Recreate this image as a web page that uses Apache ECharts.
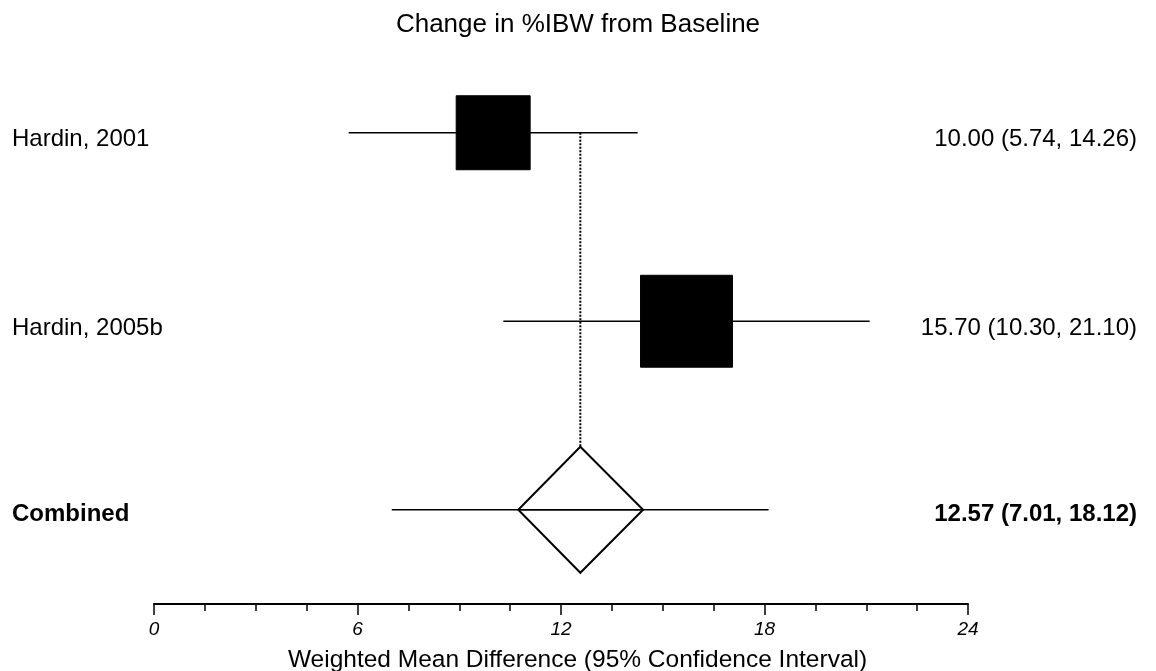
<!DOCTYPE html>
<html>
<head>
<meta charset="utf-8">
<script src="https://cdn.jsdelivr.net/npm/echarts@6/dist/echarts.min.js"></script>
<style>
  html, body { margin: 0; padding: 0; background: #fff; }
  #chart { width: 1156px; height: 671px; }
</style>
</head>
<body>
<div id="chart"></div>
<script>
// Study rows, top to bottom
const studies = ['Hardin, 2001', 'Hardin, 2005b'];
const studyMean = [10.00, 15.70];
const studyLow = [5.74, 10.30];
const studyHigh = [14.26, 21.10];
const studyWeight = [39.3, 60.7];   // relative weight (%), sets box area

// Pooled estimate
const pooledLabel = 'Combined';
const pooledMean = 12.57;
const pooledLow = 7.01;
const pooledHigh = 18.12;
const diamondLow = 10.74;
const diamondHigh = 14.42;

// X axis ticks
const xTicks = [0, 6, 12, 18, 24];

const FONT = 'Liberation Sans, Arial, sans-serif';
const fmt = v => v.toFixed(2);

// row positions on the hidden y scale: first study at top
const nRows = studies.length + 1;
const rows = [];
studies.forEach((s, i) => rows.push({
  kind: 'study', label: s, mean: studyMean[i], low: studyLow[i], high: studyHigh[i],
  weight: studyWeight[i], y: nRows - i
}));
rows.push({
  kind: 'pooled', label: pooledLabel, mean: pooledMean, low: pooledLow, high: pooledHigh,
  dLow: diamondLow, dHigh: diamondHigh, y: 1
});

const chart = echarts.init(document.getElementById('chart'));

const DIAMOND_HALF = 63;
const BOX_SCALE = 11.8;

chart.setOption({
  animation: false,
  backgroundColor: '#fff',
  title: {
    text: 'Change in %IBW from Baseline',
    left: 'center',
    top: 7,
    textStyle: { fontFamily: FONT, fontSize: 26, fontWeight: 'normal', color: '#000' }
  },
  grid: {
    left: 154, right: 188, top: 38.5, bottom: 67,
    containLabel: false, outerBoundsMode: 'none'
  },
  xAxis: {
    type: 'value',
    min: xTicks[0],
    max: xTicks[xTicks.length - 1],
    interval: xTicks[1] - xTicks[0],
    splitLine: { show: false },
    axisLine: { show: true, onZero: false, lineStyle: { color: '#000', width: 2 } },
    axisTick: { show: true, length: 11, lineStyle: { color: '#000', width: 1.5 } },
    minorTick: { show: true, splitNumber: 4, length: 7, lineStyle: { color: '#000', width: 1.5 } },
    axisLabel: {
      margin: 16, color: '#000', fontFamily: FONT, fontSize: 19, fontStyle: 'italic'
    },
    name: 'Weighted Mean Difference (95% Confidence Interval)',
    nameLocation: 'middle',
    nameGap: 44,
    nameTextStyle: { fontFamily: FONT, fontSize: 24.5, color: '#000', padding: [0, 0, 0, 33] }
  },
  yAxis: {
    type: 'value', min: 0.5, max: nRows + 0.5, show: false
  },
  series: [
    {
      type: 'custom',
      coordinateSystem: 'cartesian2d',
      clip: false,
      data: rows.map(r => [r.mean, r.y]),
      renderItem: function (params, api) {
        const r = rows[params.dataIndex];
        const c = api.coord([r.mean, r.y]);
        const lo = api.coord([r.low, r.y]);
        const hi = api.coord([r.high, r.y]);
        const kids = [];
        kids.push({
          type: 'line',
          shape: { x1: lo[0], y1: c[1], x2: hi[0], y2: c[1] },
          style: { stroke: '#000', lineWidth: 1.5 }
        });
        const bold = r.kind === 'pooled' ? 'bold' : 'normal';
        const textY = c[1] + (r.kind === 'pooled' ? 5 : 7);
        if (r.kind === 'study') {
          const side = Math.sqrt(r.weight) * BOX_SCALE;
          kids.push({
            type: 'rect',
            shape: { x: c[0] - side / 2, y: c[1] - side / 2, width: side, height: side },
            style: { fill: '#000', stroke: '#000', lineWidth: 1 }
          });
        } else {
          const dl = api.coord([r.dLow, r.y]);
          const dh = api.coord([r.dHigh, r.y]);
          kids.push({
            type: 'polygon',
            shape: { points: [[c[0], c[1] - DIAMOND_HALF], [dh[0], c[1]], [c[0], c[1] + DIAMOND_HALF], [dl[0], c[1]]] },
            style: { fill: 'rgba(255,255,255,0)', stroke: '#000', lineWidth: 2 }
          });
          // line through the diamond
          kids.push({
            type: 'line',
            shape: { x1: dl[0], y1: c[1], x2: dh[0], y2: c[1] },
            style: { stroke: '#000', lineWidth: 1.5 }
          });
          // dotted reference line at the pooled estimate
          const topRow = api.coord([r.mean, nRows]);
          kids.push({
            type: 'line',
            shape: { x1: c[0], y1: topRow[1], x2: c[0], y2: c[1] - DIAMOND_HALF },
            style: { stroke: '#000', lineWidth: 2, lineDash: [2, 1.5] }
          });
        }
        kids.push({
          type: 'text',
          style: {
            x: 12, y: textY, text: r.label, textAlign: 'left', textVerticalAlign: 'middle',
            font: bold + ' 24px ' + FONT, fill: '#000'
          }
        });
        kids.push({
          type: 'text',
          style: {
            x: 1137, y: textY,
            text: fmt(r.mean) + ' (' + fmt(r.low) + ', ' + fmt(r.high) + ')',
            textAlign: 'right', textVerticalAlign: 'middle',
            font: bold + ' 24px ' + FONT, fill: '#000'
          }
        });
        return { type: 'group', children: kids };
      }
    }
  ]
});
</script>
</body>
</html>
